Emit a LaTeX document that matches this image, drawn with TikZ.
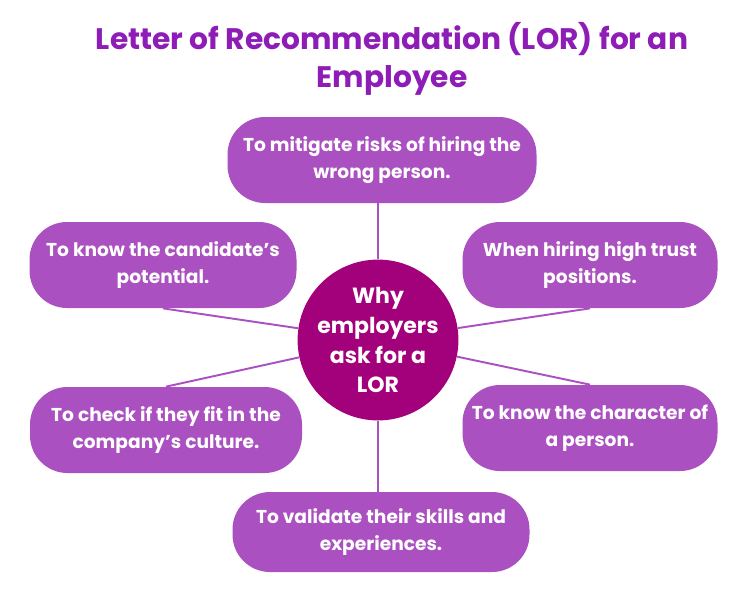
\documentclass[tikz,border=0pt]{standalone}
\usepackage{fontspec}
\setmainfont{Poppins}
\definecolor{boxpurple}{RGB}{170,80,192}
\definecolor{hubmagenta}{RGB}{163,0,124}
\definecolor{titlepurple}{RGB}{142,28,182}
\tikzset{
  reason/.style={fill=boxpurple,rounded corners=0.75cm,minimum height=1.72cm,
    align=center,text=white,font=\fontsize{10.6pt}{15.5pt}\selectfont\bfseries},
  hub/.style={circle,fill=hubmagenta,minimum size=3.2cm,inner sep=0pt,align=center,
    text=white,font=\fontsize{12.5pt}{17pt}\selectfont\bfseries},
  spoke/.style={draw=boxpurple,line width=1.1pt}
}
\begin{document}
\begin{tikzpicture}
  \useasboundingbox (0,0) rectangle (14.9,-12);
  % title
  \node[align=center,text=titlepurple,font=\fontsize{16.9pt}{21.5pt}\selectfont\bfseries]
    (title) at (7.84,-1.18) {Letter of Recommendation (LOR) for an\\Employee};
  % centre
  \node[hub] (why) at (7.56,-6.80) {Why\\employers\\ask for a\\LOR};
  % reasons round it
  \node[reason,minimum width=6.18cm] (risk) at (7.64,-3.20) {To mitigate risks of hiring the\\wrong person.};
  \node[reason,minimum width=5.34cm] (potential) at (3.26,-5.30) {To know the candidate's\\potential.};
  \node[reason,minimum width=5.10cm] (trust) at (11.80,-5.30) {When hiring high trust\\positions.};
  \node[reason,minimum width=5.44cm] (culture) at (3.32,-8.60) {To check if they fit in the\\company's culture.};
  \node[reason,minimum width=5.10cm] (character) at (11.80,-8.56) {To know the character of\\a person.};
  \node[reason,minimum width=5.94cm,minimum height=1.60cm] (skills) at (7.62,-10.64) {To validate their skills and\\experiences.};
  % spokes
  \draw[spoke] (why) -- (why|-risk.south);
  \draw[spoke] (why) -- (why|-skills.north);
  \draw[spoke] (why) -- (potential.south);
  \draw[spoke] (why) -- (trust.south);
  \draw[spoke] (why) -- (culture.north);
  \draw[spoke] (why) -- (character.north);
\end{tikzpicture}
\end{document}
